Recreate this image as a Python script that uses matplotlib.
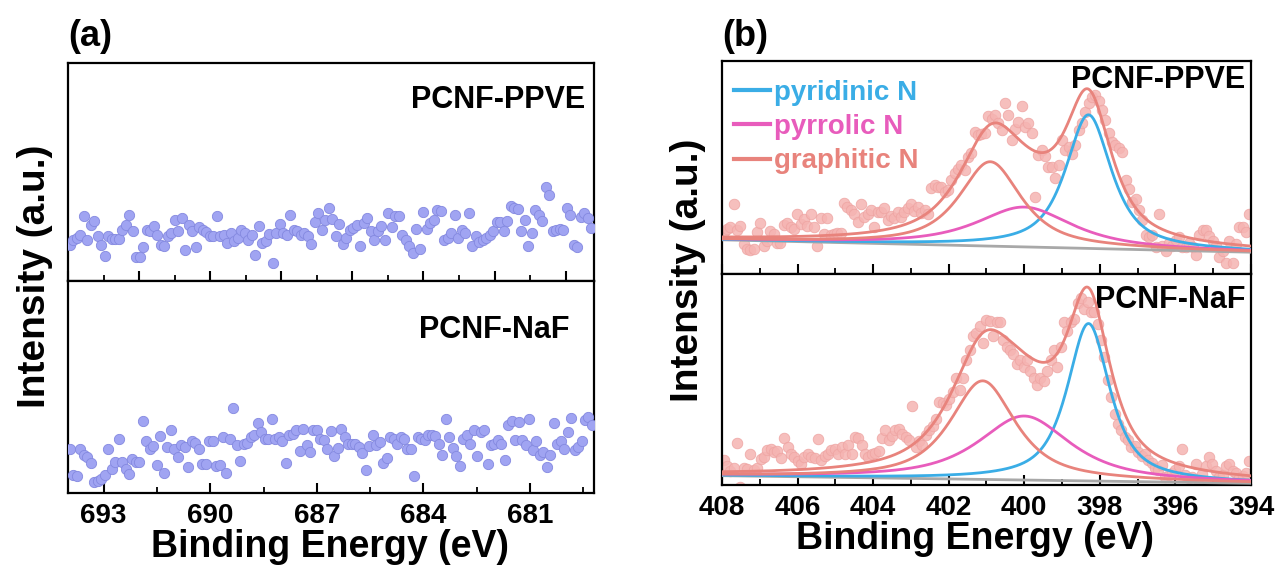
import numpy as np
import matplotlib.pyplot as plt
from matplotlib.ticker import MultipleLocator
from matplotlib.lines import Line2D

plt.rcParams['font.family'] = ['Liberation Sans', 'DejaVu Sans']
plt.rcParams['font.weight'] = 'bold'

# ---- panel (a): F 1s region, raw counts (a.u.) ----
f_ppve = [108, 123, 128, 138, 193, 123, 168, 178, 133, 108,
          75, 133, 125, 125, 125, 153, 168, 198, 148, 73,
          73, 101, 153, 148, 163, 138, 108, 105, 133, 143,
          183, 148, 188, 93, 168, 148, 103, 161, 153, 145,
          133, 133, 195, 133, 138, 113, 143, 118, 128, 153,
          143, 121, 138, 78, 165, 113, 118, 141, 55, 143,
          171, 143, 138, 198, 153, 148, 138, 143, 133, 110,
          175, 203, 151, 183, 218, 185, 133, 171, 111, 128,
          153, 158, 168, 105, 173, 188, 148, 123, 148, 165,
          123, 203, 161, 195, 193, 138, 123, 105, 85, 155,
          95, 205, 155, 173, 181, 213, 208, 123, 128, 143,
          198, 128, 151, 143, 203, 105, 133, 115, 123, 128,
          138, 148, 175, 175, 150, 178, 223, 218, 215, 148,
          181, 105, 143, 213, 198, 178, 281, 258, 148, 151,
          155, 153, 218, 198, 108, 101, 191, 203, 188, 158]

f_naf = [129, 53, 51, 129, 113, 106, 89, 33, 36, 41,
         53, 129, 71, 93, 159, 91, 71, 56, 101,
         91, 93, 213, 153, 131, 139, 83, 169, 59, 136,
         186, 131, 106, 143, 136, 76, 153, 149, 131, 86,
         86, 153, 153, 81, 83, 166, 59, 159, 251, 143,
         96, 146, 149, 166, 171, 206, 181, 161, 161, 219,
         161, 166, 153, 89, 171, 176, 186, 123, 189, 141,
         121, 186, 186, 161, 156, 131, 183, 111, 133, 189,
         166, 146, 146, 146, 136, 119, 69, 139, 173, 141,
         151, 89, 103, 166, 161, 146, 166, 161, 129, 129,
         51, 166, 161, 156, 171, 171, 169, 146, 113, 219,
         166, 133, 109, 81, 161, 171, 146, 186, 111, 181,
         186, 86, 143, 146, 156, 146, 99, 201, 213, 156,
         211, 156, 143, 219, 126, 153, 113, 121, 76, 113,
         206, 146, 153, 129, 181, 223, 126, 136, 153, 216,
         226, 201]

# ---- panel (b): N 1s region, raw counts (a.u.) ----
n_ppve = [125, 135, 140, 208, 132, 142, 90, 75, 72, 75,
          125, 152, 85, 100, 128, 118, 92, 92, 145, 152,
          140, 135, 178, 150, 165, 142, 180, 140, 85, 168,
          120, 168, 115, 120, 122, 122, 212, 200, 190, 180,
          155, 210, 170, 180, 192, 140, 185, 185, 198, 160,
          172, 168, 185, 170, 185, 198, 210, 188, 200, 182,
          192, 180, 258, 265, 260, 260, 245, 250, 282, 302,
          315, 325, 310, 350, 360, 425, 415, 418, 420, 472,
          462, 475, 450, 430, 512, 475, 400, 432, 455, 502,
          440, 450, 420, 230, 355, 370, 352, 320, 318, 288,
          325, 400, 370, 380, 358, 385, 430, 450, 485, 512,
          530, 535, 518, 490, 460, 420, 395, 385, 375, 365,
          282, 255, 215, 225, 190, 160, 115, 110, 115, 80,
          180, 85, 70, 92, 85, 102, 110, 80, 82, 92,
          80, 58, 115, 132, 130, 112, 100, 85, 50, 68,
          32, 100, 32, 90, 140, 140, 125, 180]

n_naf = [72, 55, 40, 50, 122, -5, 50, 45, 90, 42,
         50, 75, 80, 100, 105, 95, 98, 78, 135, 110,
         90, 82, 70, 60, 80, 90, 80, 78, 132, 72,
         85, 90, 100, 105, 90, 110, 90, 115, 90, 140,
         135, 115, 90, 80, 90, 92, 98, 135, 160, 130,
         142, 160, 162, 148, 140, 130, 228, 110, 128, 115,
         145, 160, 170, 190, 240, 238, 230, 250, 270, 310,
         275, 310, 360, 390, 430, 438, 460, 410, 478, 475,
         430, 470, 470, 420, 400, 390, 380, 350, 360, 340,
         360, 330, 310, 290, 310, 300, 330, 360, 390, 340,
         400, 470, 445, 470, 480, 525, 540, 510, 530, 500,
         500, 465, 420, 370, 305, 255, 205, 175, 160, 138,
         130, 110, 112, 95, 85, 90, 72, 65, 50, 42,
         58, 22, 30, 35, 42, 55, 105, 30, 20, 22,
         60, 0, 32, 55, 82, 60, 40, 22, 30, 55,
         62, 40, 35, 20, 25, 35, 70]

# fitted components: pyridinic, pyrrolic, graphitic
comp_names = ['pyridinic N', 'pyrrolic N', 'graphitic N']
ppve_center = [398.3, 400.0, 400.9]
ppve_height = [399, 119, 252]
ppve_fwhm = [1.45, 3.0, 1.95]
ppve_bg = [102, 65]       # background at 408 eV and 394 eV

naf_center = [398.3, 400.0, 401.1]
naf_height = [455, 185, 285]
naf_fwhm = [1.35, 2.9, 2.05]
naf_bg = [27, 5]

c_blue = '#3aade6'
c_mag = '#e85cbc'
c_sal = '#e8837c'
c_pt_a = '#a0a4f2'
c_pt_b = '#f5b4b2'


def pseudo_voigt(x, c, h, w, eta=0.8):
    lor = 1.0 / (1.0 + (2 * (x - c) / w) ** 2)
    gau = np.exp(-4 * np.log(2) * ((x - c) / w) ** 2)
    return h * (eta * lor + (1 - eta) * gau)


def style_axis(ax, major, minor, labels=True):
    for s in ax.spines.values():
        s.set_linewidth(1.6)
    ax.set_yticks([])
    ax.xaxis.set_major_locator(MultipleLocator(major))
    ax.xaxis.set_minor_locator(MultipleLocator(minor))
    ax.tick_params(axis='x', which='major', direction='in', length=7, width=1.5,
                   labelsize=20, pad=7, labelbottom=labels)
    ax.tick_params(axis='x', which='minor', direction='in', length=4, width=1.3)


fig = plt.figure(figsize=(12.79, 5.75), dpi=100)

# panel (a)
ax1 = fig.add_axes([0.0532, 0.5113, 0.4113, 0.3791])
ax2 = fig.add_axes([0.0532, 0.1426, 0.4113, 0.3687])
e1 = np.linspace(693.95, 679.28, len(f_ppve))
e2 = np.linspace(693.95, 679.26, len(f_naf))
ax1.scatter(e1, f_ppve, s=55, color=c_pt_a, edgecolor='#8489e0', linewidth=0.6, zorder=3)
ax2.scatter(e2, f_naf, s=55, color=c_pt_a, edgecolor='#8489e0', linewidth=0.6, zorder=3)
for ax, top in ((ax1, 651), (ax2, 628)):
    ax.set_xlim(694.0, 679.2)
    ax.set_ylim(0, top)
style_axis(ax1, 2, 1, labels=False)
style_axis(ax2, 3, 1.5)
ax1.text(0.983, 0.83, 'PCNF-PPVE', transform=ax1.transAxes, ha='right', va='center',
         fontsize=22, fontweight='bold')
ax2.text(0.954, 0.769, 'PCNF-NaF', transform=ax2.transAxes, ha='right', va='center',
         fontsize=22, fontweight='bold')

# panel (b)
ax3 = fig.add_axes([0.5645, 0.5235, 0.4136, 0.3704])
ax4 = fig.add_axes([0.5645, 0.1565, 0.4136, 0.3670])
xf = np.linspace(408, 394, 700)
for ax, pts, cen, hei, fw, bg, top in ((ax3, n_ppve, ppve_center, ppve_height, ppve_fwhm, ppve_bg, 636),
                                       (ax4, n_naf, naf_center, naf_height, naf_fwhm, naf_bg, 610)):
    e = np.linspace(407.96, 394.04, len(pts))
    ax.scatter(e, pts, s=58, color=c_pt_b, edgecolor='#eea3a1', linewidth=0.6,
               alpha=0.85, zorder=2)
    base = np.interp(xf, [394, 408], [bg[1], bg[0]])
    ax.plot(xf, base, color='#a8a8a8', lw=2, zorder=3)
    total = base.copy()
    for c, h, w, col in zip(cen, hei, fw, [c_blue, c_mag, c_sal]):
        comp = pseudo_voigt(xf, c, h, w)
        total += comp
        ax.plot(xf, base + comp, color=col, lw=2, zorder=4)
    ax.plot(xf, total, color=c_sal, lw=2, zorder=5)
    ax.set_xlim(408, 394)
    ax.set_ylim(0, top)
style_axis(ax3, 2, 1, labels=False)
style_axis(ax4, 2, 1)
ax3.text(0.989, 0.91, 'PCNF-PPVE', transform=ax3.transAxes, ha='right', va='center',
         fontsize=22, fontweight='bold')
ax4.text(0.989, 0.876, 'PCNF-NaF', transform=ax4.transAxes, ha='right', va='center',
         fontsize=22, fontweight='bold')

handles = [Line2D([], [], color=col, lw=3) for col in (c_blue, c_mag, c_sal)]
ax3.legend(handles, comp_names, loc='upper left', bbox_to_anchor=(-0.025, 1.03),
           frameon=False, handlelength=1.3, handletextpad=0.15,
           labelspacing=0.3, labelcolor=[c_blue, c_mag, c_sal],
           prop={'weight': 'bold', 'size': 20})

# labels
fig.text(0.053, 0.937, '(a)', fontsize=26, fontweight='bold', ha='left', va='center')
fig.text(0.5645, 0.937, '(b)', fontsize=26, fontweight='bold', ha='left', va='center')
fig.text(0.258, 0.048, 'Binding Energy (eV)', fontsize=27, fontweight='bold', ha='center', va='center')
fig.text(0.762, 0.062, 'Binding Energy (eV)', fontsize=27, fontweight='bold', ha='center', va='center')
fig.text(0.027, 0.52, 'Intensity (a.u.)', fontsize=28, fontweight='bold', rotation=90,
         ha='center', va='center')
fig.text(0.538, 0.53, 'Intensity (a.u.)', fontsize=28, fontweight='bold', rotation=90,
         ha='center', va='center')

fig.savefig('out.png', dpi=100)
